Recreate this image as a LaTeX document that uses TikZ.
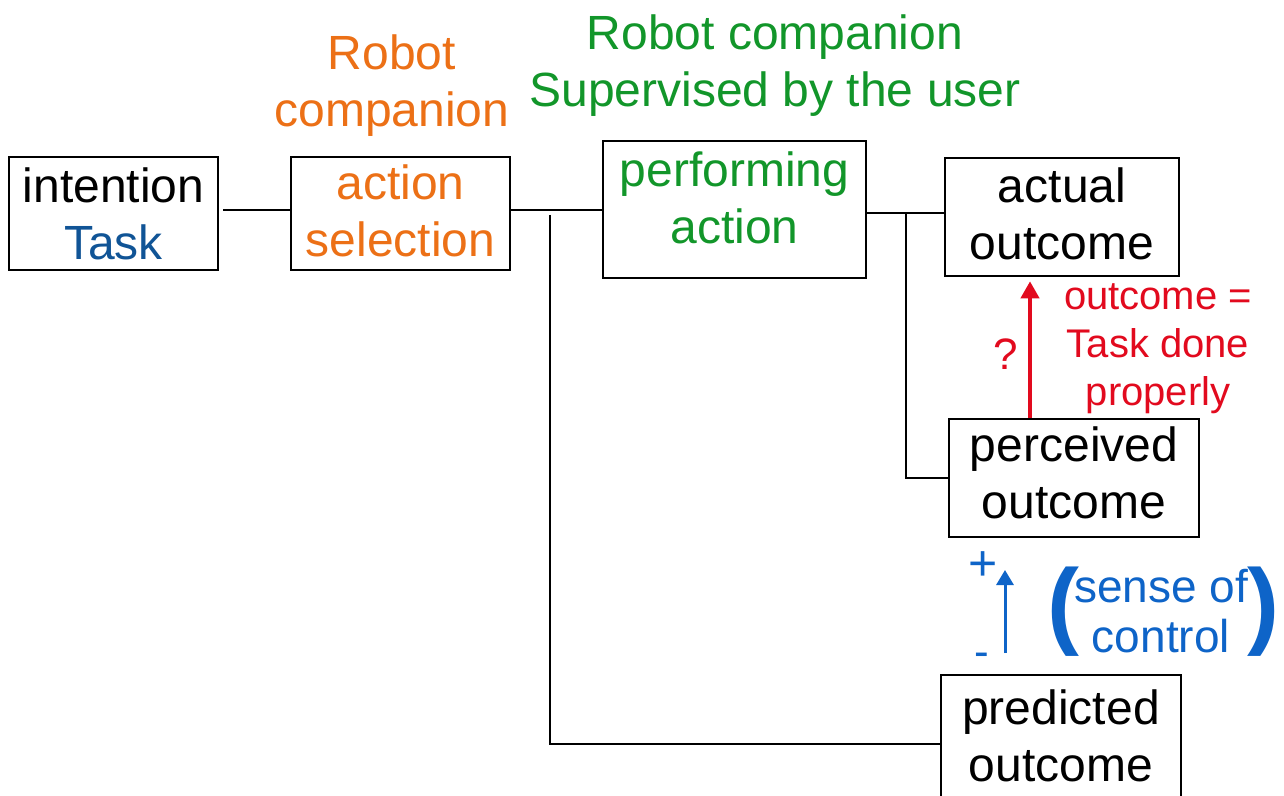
\documentclass[tikz,border=0pt]{standalone}
\usepackage{fontspec}
\setmainfont{Liberation Sans}
\usetikzlibrary{arrows.meta}
\definecolor{selorange}{RGB}{236,112,22}
\definecolor{actgreen}{RGB}{18,150,42}
\definecolor{taskblue}{RGB}{16,84,150}
\definecolor{checkred}{RGB}{226,10,30}
\definecolor{ctrlblue}{RGB}{14,100,200}
% extra depth below the last line of a box label
\newcommand\padbelow[1]{\rule[-#1]{0pt}{#1}}
\begin{document}
\begin{tikzpicture}[x=0.5pt,y=-0.5pt,
  box/.style={draw, line width=1.3pt, rectangle, inner sep=0pt, align=center,
    font=\fontsize{24}{28.5}\selectfont},
  title/.style={inner sep=0pt, align=center, font=\fontsize{24}{28.5}\selectfont},
  link/.style={line width=1.25pt},
  note/.style={inner sep=0pt, align=center},
]
\clip (0,0) rectangle (1284,796);
\fill[white] (0,0) rectangle (1284,796);

% headings
\node[title, text=selorange] (hsel) at (392,86) {Robot\\companion};
\node[title, text=actgreen] (hact) at (775,66) {Robot companion\\Supervised by the user};

% boxes
\node[box, minimum width=104.5pt, minimum height=56.5pt] (intention) at (113.5,213.5)
  {intention\\\textcolor{taskblue}{Task}};
\node[box, minimum width=109.5pt, minimum height=56.5pt, text=selorange] (action) at (400.5,213.5)
  {action\\selection\padbelow{3pt}};
\node[box, minimum width=131.5pt, minimum height=68.5pt, text=actgreen] (perform) at (734.5,209.5)
  {performing\\action\padbelow{12pt}};
\node[box, minimum width=117pt, minimum height=59pt] (actual) at (1062,217)
  {actual\\outcome\padbelow{3pt}};
\node[box, minimum width=125pt, minimum height=59pt] (perceived) at (1074,478)
  {perceived\\outcome\padbelow{5pt}};
\node[box, minimum width=120pt, minimum height=69pt] (predicted) at (1061,744)
  {predicted\\outcome\padbelow{8pt}};

% connectors
\draw[link, shorten <=2pt] (intention.east |- 0,210) -- (action.west |- 0,210);
\draw[link] (action.east |- 0,210) -- (perform.west |- 0,210);
\coordinate (ja) at (550,215);
\draw[link] (ja) |- (predicted.west);
\draw[link] (perform.east |- 0,213) -- (actual.west |- 0,213);
\coordinate (jb) at (906,213);
\draw[link] (jb) |- (perceived.west);

% outcome check
\draw[checkred, line width=2pt, -{Triangle[length=8.5pt,width=9pt]}, shorten >=2pt]
  (perceived.north -| 1030,0) -- (actual.south -| 1030,0);
\node[note, text=checkred, font=\fontsize{22}{26}\selectfont] (qmark) at (1006,354) {?};
\node[note, text=checkred, font=\fontsize{20}{24}\selectfont] (crit) at (1158,349)
  {outcome =\\Task done\\properly};

% sense of control
\coordinate (sclo) at (1005,653);
\coordinate (schi) at (1005,570);
\draw[ctrlblue, line width=1.5pt, -{Triangle[length=7.5pt,width=8.5pt]}] (sclo) -- (schi);
\node[note, text=ctrlblue, font=\fontsize{25}{28}\selectfont] (plus) at (983,566) {+};
\node[note, text=ctrlblue, font=\fontsize{22}{24}\selectfont] (minus) at (982,660) {-};
\node[note, text=ctrlblue, font=\fontsize{23}{25}\selectfont] (soc) at (1161,611)
  {sense of\\control};
\node[note, text=ctrlblue, font=\fontsize{48}{48}\selectfont\bfseries] (lpar) at (1063,612) {(};
\node[note, text=ctrlblue, font=\fontsize{48}{48}\selectfont\bfseries] (rpar) at (1263,612) {)};
\end{tikzpicture}
\end{document}
